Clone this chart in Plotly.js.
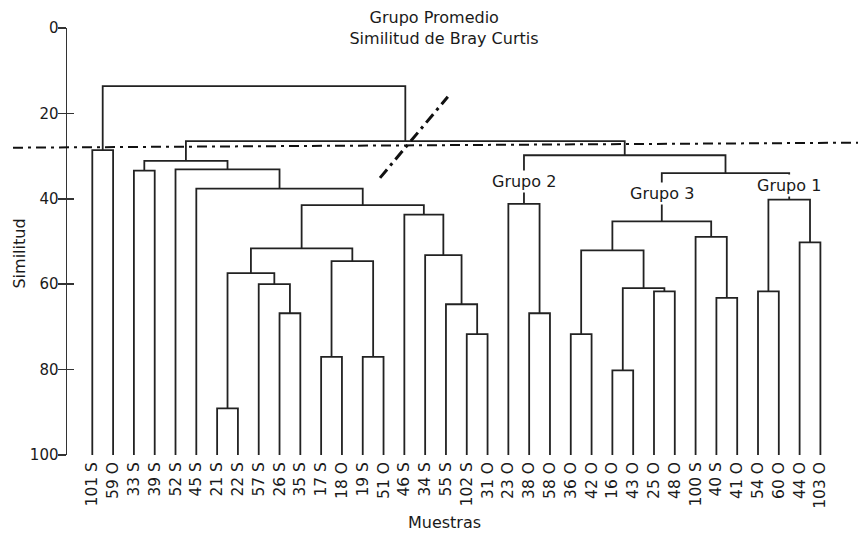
<!DOCTYPE html>
<html><head><meta charset="utf-8">
<script src="https://cdn.plot.ly/plotly-3.0.1.min.js"></script>
<style>html,body{margin:0;padding:0;background:#fff}#chart{width:858px;height:533px}</style>
</head><body><div id="chart"></div>
<script>
// Leaves in display order
const leafLabels = ['101 S','59 O','33 S','39 S','52 S','45 S','21 S','22 S','57 S','26 S','35 S',
  '17 S','18 O','19 S','51 O','46 S','34 S','55 S','102 S','31 O','23 O','38 O','58 O','36 O','42 O',
  '16 O','43 O','25 O','48 O','100 S','40 S','41 O','54 O','60 O','44 O','103 O'];
// Merges (node ids: leaves 0..35, merge k becomes node 36+k)
const mergeLeft   = [6, 9, 8, 36, 11, 13, 40, 39, 18, 17, 16, 15, 43, 5, 4, 2, 51, 21, 20, 23, 25, 27, 56, 55, 30, 29, 59, 32, 34, 63, 62, 54, 52, 0, 69];
const mergeRight  = [7, 10, 37, 38, 12, 14, 41, 42, 19, 44, 45, 46, 47, 48, 49, 3, 50, 22, 53, 24, 26, 28, 57, 58, 31, 60, 61, 33, 35, 64, 65, 66, 67, 1, 68];
const mergeHeight = [89.1, 66.8, 60.0, 57.4, 77.0, 77.0, 54.6, 51.6, 71.7, 64.7, 53.2, 43.7, 41.5, 37.6, 33.1, 33.4, 31.1, 66.8, 41.2, 71.7, 80.2, 61.7, 60.9, 52.1, 63.2, 48.9, 45.3, 61.7, 50.2, 40.2, 34.0, 29.8, 26.5, 28.6, 13.6];
// Group labels
const groupNames  = ['Grupo 2', 'Grupo 3', 'Grupo 1'];
const groupNodes  = [54, 62, 65];
const groupLabelY = [36.0, 38.7, 36.8];
// Cut lines (similarity values)
const cutLevel = [28.03, 26.86];
const diagX = [13.83, 17.09];
const diagY = [35.1, 16.1];

const nodeX = leafLabels.map((_, i) => i);
const nodeH = leafLabels.map(() => 100);
const xs = [], ys = [];
mergeLeft.forEach((a, k) => {
  const b = mergeRight[k], h = mergeHeight[k];
  xs.push(nodeX[a], nodeX[a], nodeX[b], nodeX[b], null);
  ys.push(nodeH[a], h, h, nodeH[b], null);
  nodeX.push((nodeX[a] + nodeX[b]) / 2);
  nodeH.push(h);
});

const font = 'DejaVu Sans, Verdana, sans-serif';
const tc = '#1a1a1a';
const pad = s => '<span style="color:rgba(255,255,255,0)">' + s + '</span>';

const traces = [
  {x: xs, y: ys, type: 'scatter', mode: 'lines', line: {color: '#222', width: 1.8}, hoverinfo: 'skip', showlegend: false},
  {x: [0], y: [0], yaxis: 'y2', type: 'scatter', mode: 'markers', marker: {opacity: 0}, hoverinfo: 'skip', showlegend: false}
];

const annotations = groupNames.map((g, i) => ({
  x: nodeX[groupNodes[i]], y: groupLabelY[i], xref: 'x', yref: 'y', text: g, showarrow: false,
  font: {family: font, size: 16, color: tc}, bgcolor: '#fff', borderpad: 1, xanchor: 'center', yanchor: 'middle'
}));

const layout = {
  width: 858, height: 533,
  margin: {l: 67, r: 12, t: 28, b: 78},
  paper_bgcolor: '#fff', plot_bgcolor: '#fff',
  showlegend: false,
  title: {text: 'Grupo Promedio' + pad('oo') + '<br>Similitud de Bray Curtis', xref: 'container', x: 444/858, xanchor: 'center',
          yref: 'container', y: 1 - 23/533, yanchor: 'top', font: {family: font, size: 16, color: tc}},
  xaxis: {range: [-1.216, 36.23], showgrid: false, zeroline: false, showline: false, ticks: '',
          tickmode: 'array', tickvals: leafLabels.map((_, i) => i), ticktext: leafLabels, tickangle: -90,
          tickfont: {family: font, size: 15.5, color: tc}, ticklabelstandoff: 3,
          title: {text: 'Muestras' + pad('___'), font: {family: font, size: 16, color: tc}, standoff: 10}},
  yaxis: {range: [100, 0], showgrid: false, zeroline: false, showline: true, linecolor: '#333', linewidth: 1.5,
          ticks: 'outside', ticklen: 8, tickwidth: 1.5, tickcolor: '#333', tickvals: [0, 20, 40, 60, 80, 100],
          tickfont: {family: font, size: 15, color: tc}, ticklabelstandoff: -4,
          title: {text: 'Similitud' + pad('___'), font: {family: font, size: 16, color: tc}, standoff: 0}},
  yaxis2: {range: [100, 0], overlaying: 'y', side: 'left', showgrid: false, zeroline: false, showline: false,
           ticks: 'inside', ticklen: 7, tickwidth: 1.5, tickcolor: '#333', tickvals: [0, 20, 40, 60, 80, 100], showticklabels: false},
  shapes: [
    {type: 'line', xref: 'paper', yref: 'y', x0: -0.0693, x1: 1.0154, y0: cutLevel[0], y1: cutLevel[1],
     line: {color: '#111', width: 2, dash: '10px,5px,3px,5px'}},
    {type: 'line', xref: 'x', yref: 'y', x0: diagX[0], x1: diagX[1], y0: diagY[0], y1: diagY[1],
     line: {color: '#111', width: 3, dash: '11px,5px,3px,5px'}}
  ],
  annotations: annotations
};

Plotly.newPlot('chart', traces, layout, {displayModeBar: false, staticPlot: true});
</script>
</body></html>
